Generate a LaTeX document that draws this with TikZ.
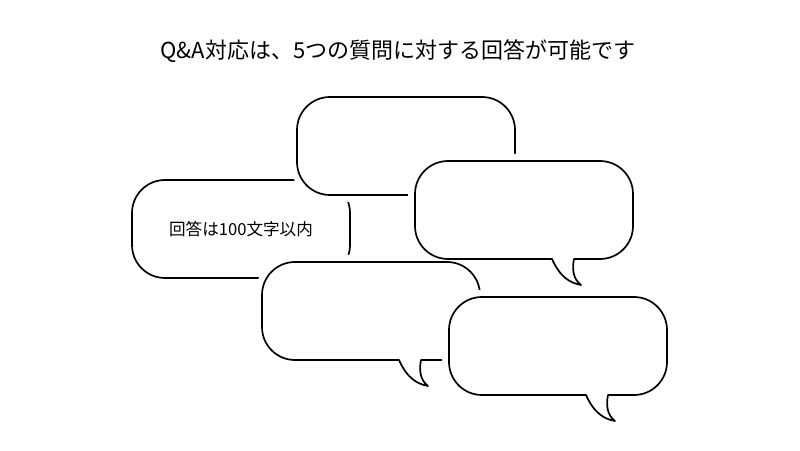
\documentclass[tikz,border=0pt]{standalone}
\usepackage{fontspec}
\setmainfont{Noto Sans CJK JP}
\usepackage{tikz}

% speech bubble outline: #1 = left edge, #2 = top edge (both counted in px from the top-left)
\newcommand{\bubbleat}[2]{%
  ({#1+159},{352-#2}) -- ({#1+185},{352-#2})
  arc[start angle=-90,end angle=0,radius=33pt] -- ({#1+218},{417-#2})
  arc[start angle=0,end angle=90,radius=33pt] -- ({#1+33},{450-#2})
  arc[start angle=90,end angle=180,radius=33pt] -- ({#1},{385-#2})
  arc[start angle=180,end angle=270,radius=33pt] -- ({#1+137},{352-#2})
  .. controls ({#1+145},{334-#2}) and ({#1+155},{328-#2}) .. ({#1+166},{326-#2})
  .. controls ({#1+158},{332-#2}) and ({#1+157},{342-#2}) .. ({#1+159},{352-#2}) -- cycle}

\begin{document}
\begin{tikzpicture}[
    x=1pt, y=1pt,
    bubble/.style={draw=black, line width=1.7pt, fill=white, line join=round},
    halo/.style={draw=white, line width=14pt, fill=white, line join=round},
    qtitle/.style={font=\fontsize{22}{26}\selectfont, inner sep=0pt},
    note/.style={font=\fontsize{16.6}{20}\selectfont, inner sep=0pt}
]
    \useasboundingbox (0,0) rectangle (800,450);

    \node[qtitle] (title) at (398,399) {Q\&A対応は、5つの質問に対する回答が可能です};

    % left bubble with the text, then the others stacked over it
    \draw[bubble] \bubbleat{132}{180};
    \node[note] (limit) at (241,221) {回答は100文字以内};
    \path[halo] \bubbleat{262}{262};
    \path[halo] \bubbleat{297}{97};
    \draw[bubble] \bubbleat{297}{97};
    \path[halo] \bubbleat{415}{161};
    \draw[bubble] \bubbleat{415}{161};
    \draw[bubble] \bubbleat{262}{262};
    \path[halo] \bubbleat{449}{297};
    \draw[bubble] \bubbleat{449}{297};
\end{tikzpicture}
\end{document}
